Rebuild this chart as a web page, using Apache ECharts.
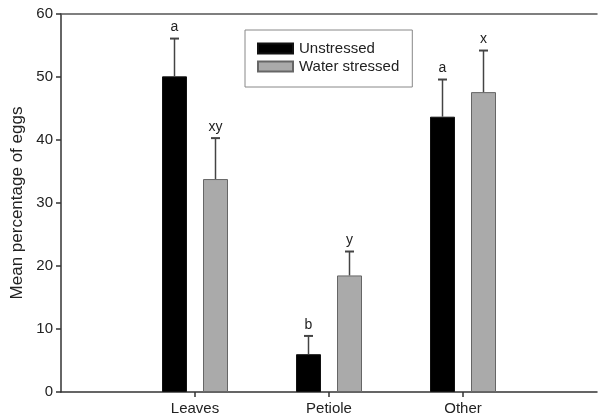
<!DOCTYPE html>
<html><head><meta charset="utf-8">
<script src="https://cdn.jsdelivr.net/npm/echarts@6/dist/echarts.min.js"></script>
<style>html,body{margin:0;padding:0;background:#fff}#c{width:600px;height:418px}</style>
</head><body><div id="c"></div>
<script>
var categories = ['', 'Leaves', 'Petiole', 'Other', ''];
var unstressed = [null, 50.1, 6.0, 43.7, null];
var unstressedUpper = [null, 56.1, 8.9, 49.6, null];
var unstressedLetters = ['', 'a', 'b', 'a', ''];
var waterStressed = [null, 33.8, 18.5, 47.6, null];
var waterStressedUpper = [null, 40.3, 22.3, 54.2, null];
var waterStressedLetters = ['', 'xy', 'y', 'x', ''];
var yTicks = [0, 10, 20, 30, 40, 50, 60];

var BAR_W = 25, BAR_GAP = 16;
var OFFSET = (BAR_W + BAR_GAP) / 2;
var FONT = 'Liberation Sans, Arial, sans-serif';

function errData(vals, upper, letters) {
  var out = [];
  for (var i = 0; i < vals.length; i++) {
    if (vals[i] != null) out.push([i, vals[i], upper[i], letters[i]]);
  }
  return out;
}
function errSeries(vals, upper, letters, dir) {
  return {
    type: 'custom', xAxisIndex: 0, yAxisIndex: 0, z: 5, silent: true,
    data: errData(vals, upper, letters),
    renderItem: function (params, api) {
      var x = api.coord([api.value(0), 0])[0] + dir * OFFSET;
      var yTop = api.coord([api.value(0), api.value(1)])[1];
      var yUp = api.coord([api.value(0), api.value(2)])[1];
      return {
        type: 'group', children: [
          { type: 'line', shape: { x1: x, y1: yTop, x2: x, y2: yUp }, style: { stroke: '#444', lineWidth: 1.5 } },
          { type: 'line', shape: { x1: x - 4.5, y1: yUp, x2: x + 4.5, y2: yUp }, style: { stroke: '#444', lineWidth: 2 } },
          { type: 'text', x: x, y: yUp - 4, style: { text: api.value(3), fill: '#222', font: '14px ' + FONT, textAlign: 'center', textVerticalAlign: 'bottom' } }
        ]
      };
    }
  };
}

var chart = echarts.init(document.getElementById('c'), null, { renderer: 'canvas' });
chart.setOption({
  animation: false,
  backgroundColor: '#fff',
  textStyle: { fontFamily: FONT },
  grid: { left: 61, top: 14, width: 544, height: 378, containLabel: false },
  legend: {
    orient: 'vertical', left: 245, top: 30,
    data: ['Unstressed', 'Water stressed'],
    itemWidth: 35, itemHeight: 10, itemGap: 1,
    padding: [10, 13, 12, 12],
    borderColor: '#888', borderWidth: 1,
    textStyle: { fontSize: 15, color: '#222', fontFamily: FONT, lineHeight: 17, padding: [0, 0, 0, 1] },
    icon: 'rect'
  },
  xAxis: [{
    type: 'category', data: categories, boundaryGap: false,
    axisLine: { lineStyle: { color: '#333', width: 1.5 } },
    axisTick: { show: true, length: 5, interval: function (i) { return i >= 1 && i <= 3; }, lineStyle: { color: '#333', width: 1.5 } },
    axisLabel: { interval: 0, fontSize: 15, color: '#222', margin: 9 },
    splitLine: { show: false }
  }, {
    type: 'category', data: categories, boundaryGap: false, position: 'top',
    axisLine: { lineStyle: { color: '#555', width: 1.5 } },
    axisTick: { show: false }, axisLabel: { show: false }, splitLine: { show: false }
  }],
  yAxis: {
    type: 'value', min: 0, max: 60, interval: 10,
    name: 'Mean percentage of eggs', nameLocation: 'middle', nameGap: 33,
    nameTextStyle: { fontSize: 17, color: '#222' },
    axisLine: { show: true, lineStyle: { color: '#333', width: 1.5 } },
    axisTick: { show: true, length: 5, lineStyle: { color: '#333', width: 1.5 } },
    axisLabel: { fontSize: 15, color: '#222', margin: 8,
      formatter: function (v) { return yTicks.indexOf(v) >= 0 ? String(v) : ''; } },
    splitLine: { show: false }
  },
  series: [
    { name: 'Unstressed', type: 'bar', data: unstressed, barWidth: BAR_W, barGap: (BAR_GAP / BAR_W * 100) + '%',
      itemStyle: { color: '#000', borderColor: '#111', borderWidth: 1 } },
    { name: 'Water stressed', type: 'bar', data: waterStressed, barWidth: BAR_W,
      itemStyle: { color: '#aaaaaa', borderColor: '#666', borderWidth: 1 } },
    errSeries(unstressed, unstressedUpper, unstressedLetters, -1),
    errSeries(waterStressed, waterStressedUpper, waterStressedLetters, 1)
  ]
});
</script></body></html>
